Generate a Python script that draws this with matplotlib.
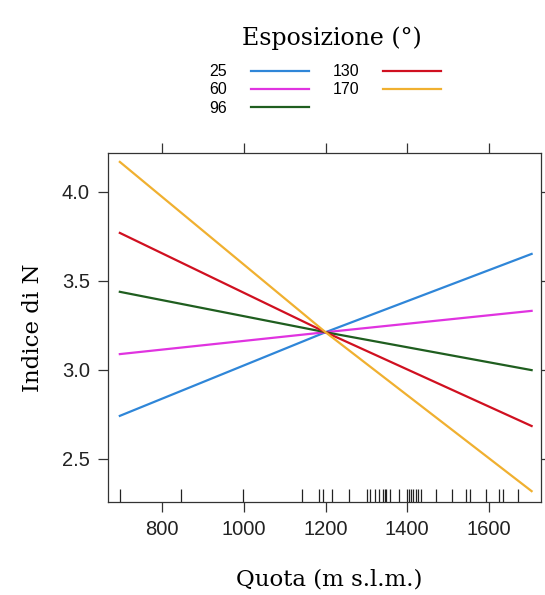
import matplotlib
matplotlib.use('Agg')
import matplotlib.pyplot as plt
from matplotlib.lines import Line2D

# quota (m s.l.m.) at which the fitted lines are read
quota = [696, 1200, 1705]

# fitted values of Indice di N for each exposure class
esposizione = ['25', '60', '96', '130', '170']
indice = {
    '25': [2.74, 3.21, 3.65],
    '60': [3.087, 3.21, 3.33],
    '96': [3.437, 3.21, 2.997],
    '130': [3.768, 3.21, 2.683],
    '170': [4.167, 3.21, 2.317],
}
colori = ['#2f86d8', '#e033e0', '#1f5e1f', '#d01020', '#f0b030']

# observed quotas (rug)
rug = [696, 846, 997, 1143, 1184, 1193, 1215, 1257, 1302, 1310, 1321,
       1331, 1341, 1345, 1349, 1357, 1380, 1400, 1404, 1409, 1414, 1421,
       1427, 1433, 1470, 1511, 1544, 1553, 1593, 1625, 1635, 1672]

xticks = [800, 1000, 1200, 1400, 1600]
yticks = [2.5, 3.0, 3.5, 4.0]

serif = 'DejaVu Serif'
sans = 'Liberation Sans'

fig = plt.figure(figsize=(5.45, 5.95), dpi=100)
ax = fig.add_axes([108 / 545, 1 - 502 / 595, 433 / 545, 349 / 595])

for lab, col in zip(esposizione, colori):
    ax.plot(quota, indice[lab], color=col, lw=1.6)

ax.vlines(rug, 0, 0.037, transform=ax.get_xaxis_transform(),
          color='#222222', lw=0.9)

ax.set_xlim(667, 1728)
ax.set_ylim(2.256, 4.217)
ax.set_xticks(xticks)
ax.set_yticks(yticks)
ax.set_yticklabels(['%.1f' % v for v in yticks])
ax.tick_params(direction='out', length=7, width=0.9, color='#333333',
               top=True, right=True, labeltop=False, labelright=False,
               labelsize=14.5, pad=6)
for lbl in ax.get_xticklabels() + ax.get_yticklabels():
    lbl.set_family(sans)
    lbl.set_color('#222222')
for s in ax.spines.values():
    s.set_color('#333333')
    s.set_linewidth(0.9)

ax.set_xlabel('Quota (m s.l.m.)', family=serif, fontsize=16.5)
ax.xaxis.set_label_coords(0.51, -0.19)
ax.set_ylabel('Indice di N', family=serif, fontsize=16.5, labelpad=13)

# legend title drawn on its own, legend keys below
fig.text(332 / 545, 1 - 38 / 595, 'Esposizione (°)', family=serif,
         fontsize=17, ha='center', va='center')
handles = [Line2D([], [], color=c, lw=1.6) for c in colori]
fig.legend(handles, esposizione, loc='upper center',
           bbox_to_anchor=(325 / 545, 1 - 53 / 595), ncol=2,
           frameon=False, markerfirst=False,
           prop={'family': sans, 'size': 11.5},
           handlelength=3.6, handletextpad=1.5, columnspacing=1.5,
           labelspacing=0.2, borderpad=0.2)

fig.savefig('out.png', dpi=100)
